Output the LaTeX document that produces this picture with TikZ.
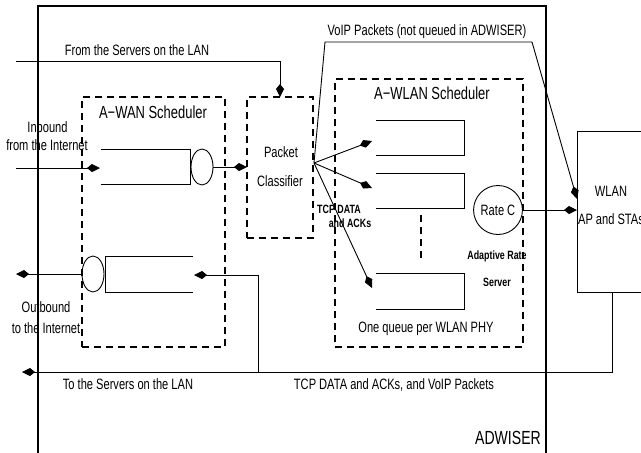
\documentclass[tikz,border=0pt]{standalone}
\usepackage{fontspec}
\setmainfont{Liberation Sans}[FakeStretch=0.74]
\usetikzlibrary{arrows.meta,shapes.geometric}
\begin{document}
\begin{tikzpicture}[x=1pt,y=-1pt,
 every node/.style={inner sep=0pt, outer sep=0pt},
 lbl/.style={font=\fontsize{15}{17}\selectfont, anchor=base},
 ttl/.style={font=\fontsize{17.5}{20}\selectfont, anchor=base},
 sml/.style={font=\bfseries\fontsize{12}{14}\selectfont, anchor=base},
 dbox/.style={draw, rectangle, dash pattern=on 7pt off 5pt, line width=1.4pt},
 arr/.style={line width=0.9pt, -{Kite[length=13pt,width=8pt,inset=5pt]}},
 ln/.style={line width=0.9pt},
 srv/.style={draw, ellipse, line width=0.9pt}]
\useasboundingbox (0,0) rectangle (641,453);
\clip (0,0) rectangle (641,453);

% outer ADWISER box
\node[draw, line width=2pt, minimum width=508pt, minimum height=480pt, anchor=north west] (adw) at (38,6) {};
\node[font=\fontsize{19}{22}\selectfont, anchor=base] (adwl) at (508,444) {ADWISER};

% dashed boxes
\node[dbox, minimum width=143pt, minimum height=250pt] (awan) at (153.5,222) {};
\node[dbox, minimum width=66pt, minimum height=141pt] (pc) at (280,167.5) {};
\node[dbox, minimum width=188pt, minimum height=268pt] (awlan) at (429,213) {};
\node[draw, line width=0.9pt, minimum width=70pt, minimum height=161pt] (wlan) at (612,211.5) {};

% titles and labels
\node[ttl] (awant) at (153,118) {A−WAN Scheduler};
\node[ttl] (awlant) at (432,99) {A−WLAN Scheduler};
\node[lbl] (pc1) at (281,157) {Packet};
\node[lbl] (pc2) at (280,186) {Classifier};
\node[lbl] (wl1) at (611,196) {WLAN};
\node[lbl] (wl2) at (611,224) {AP and STAs};
\node[lbl] (fromsrv) at (137,55) {From the Servers on the LAN};
\node[lbl] (voipl) at (427,35) {VoIP Packets (not queued in ADWISER)};
\node[lbl] (inb1) at (47.5,132) {Inbound};
\node[lbl] (inb2) at (47,150) {from the Internet};
\node[lbl] (outb1) at (46,312) {Outbound};
\node[lbl] (outb2) at (46,333) {to the Internet};
\node[lbl] (oneq) at (426,332) {One queue per WLAN PHY};
\node[lbl] (tosrv) at (128,389) {To the Servers on the LAN};
\node[lbl] (tcpv) at (394,389) {TCP DATA and ACKs, and VoIP Packets};
\node[sml] (tcp1) at (339,213) {TCP DATA};
\node[sml] (tcp2) at (350,227) {and ACKs};
\node[sml] (ars1) at (497,259) {Adaptive Rate};
\node[sml] (ars2) at (497,286) {Server};

% servers (ellipses)
\node[srv, minimum width=22pt, minimum height=36pt] (c1) at (202,167) {};
\node[srv, minimum width=22pt, minimum height=36pt] (c2) at (93,274) {};
\node[srv, minimum width=40pt, minimum height=49pt, font=\fontsize{15}{17}\selectfont] (rate) at (498,210) {Rate C};

% queues
\draw[ln] (101,149) -- (190,149) -- (190,184) -- (101,184);
\draw[ln] (193,256) -- (105,256) -- (105,292) -- (193,292);
\draw[ln] (376,120) -- (464,120) -- (464,155) -- (376,155);
\draw[ln] (376,173) -- (464,173) -- (464,208) -- (376,208);
\draw[ln] (376,273) -- (464,273) -- (464,309) -- (376,309);
\draw[dash pattern=on 7pt off 5pt, line width=1.2pt] (421,215) -- (421,260);

% coordinates
\coordinate (fs) at (16,61);
\coordinate (inb) at (16,168);
\coordinate (q1in) at (100,168);
\coordinate (outb) at (16,274);
\coordinate (fan) at (314,163);
\coordinate (wq1) at (372,141);
\coordinate (wq2) at (372,188);
\coordinate (wq3) at (372,288);
\coordinate (v1) at (325,42);
\coordinate (v2) at (532,42);
\coordinate (voipend) at (577,199);
\coordinate (tolan) at (22,372);
\coordinate (j) at (258,372);
\coordinate (q2in) at (194,275);

% connectors
\draw[arr] (fs) -| (pc.north);
\draw[arr] (inb) -- (q1in);
\draw[arr] (c1.east) -- (c1.east -| pc.west);
\draw[arr] (c2.west) -- (outb);
\draw[arr] (fan) -- (wq1);
\draw[arr] (fan) -- (wq2);
\draw[arr] (fan) -- (wq3);
\draw[arr] (fan) -- (v1) -- (v2) -- (voipend);
\draw[arr] (rate.east) -- (rate.east -| wlan.west);
\draw[arr] (wlan.south) |- (tolan);
\draw[arr] (j) |- (q2in);
\end{tikzpicture}
\end{document}
